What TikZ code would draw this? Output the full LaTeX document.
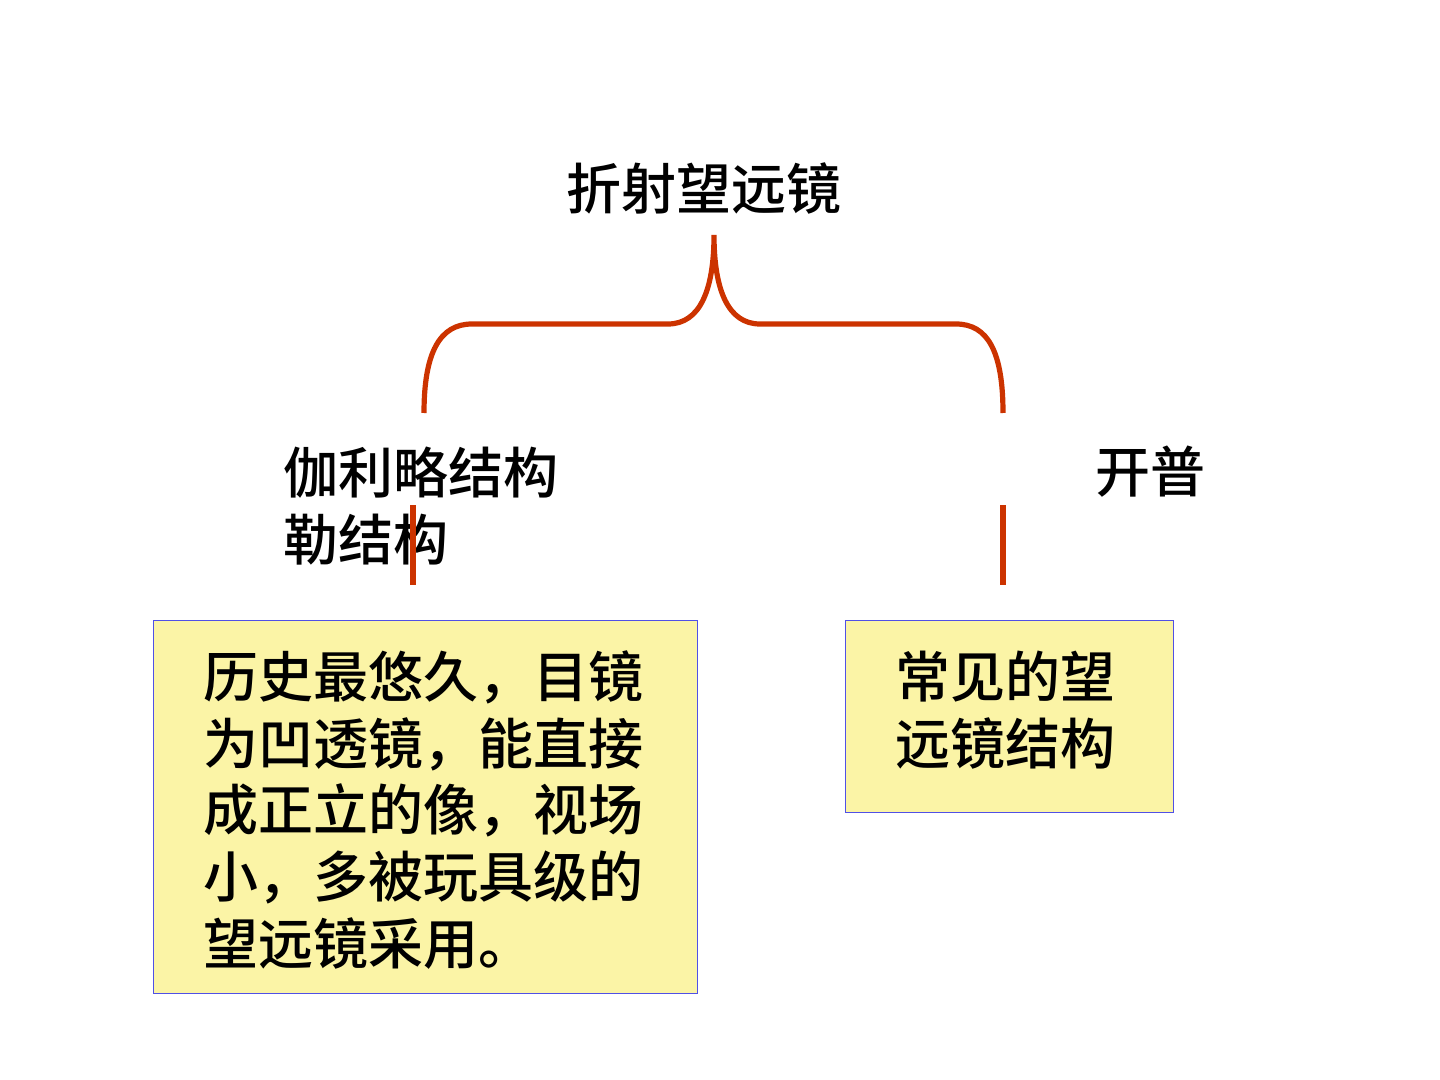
\documentclass[tikz,border=0pt]{standalone}
\usepackage{fontspec}
\newfontfamily\cjk{Noto Sans CJK SC Medium}
\definecolor{bracered}{HTML}{CC3300}
\definecolor{boxfill}{HTML}{FBF4A6}
\definecolor{boxline}{HTML}{5050E6}
\tikzset{
  lbl/.style={font=\cjk\fontsize{27.5}{33.3}\selectfont, inner sep=0pt, anchor=west, align=left},
  notebox/.style={draw=boxline, line width=0.6pt, fill=boxfill},
  redline/.style={draw=bracered, line width=2.6pt}
}
\begin{document}
\begin{tikzpicture}[x=0.5pt,y=-0.5pt]
\useasboundingbox (0,0) rectangle (1440,1080);
% title
\node[lbl, anchor=center] (title) at (704,188) {折射望远镜};
% brace
\coordinate (bl) at (424,413);
\coordinate (br) at (1003,413);
\coordinate (tip) at (714,235);
\draw[redline] (bl) .. controls (424,352) and (440,324) .. (472,324)
  -- (668,324) .. controls (700,324) and (714,290) .. (tip)
  .. controls (714,290) and (728,324) .. (760,324)
  -- (956,324) .. controls (988,324) and (1003,352) .. (br);
% labels
\node[lbl] (gal) at (283,506) {伽利略结构\\勒结构};
\node[lbl] (kep) at (1095,472) {开普};
% short lines
\coordinate (la) at (413,505);
\coordinate (lb) at (413,585);
\coordinate (ra) at (1003,505);
\coordinate (rb) at (1003,585);
\draw[redline] (la) -- (lb);
\draw[redline] (ra) -- (rb);
% boxes
\node[notebox, minimum width=272pt, minimum height=186.5pt, anchor=north west, inner sep=0pt] (boxL) at (153,620) {};
\node[lbl] (txtL) at (203,810) {历史最悠久，目镜\\为凹透镜，能直接\\成正立的像，视场\\小，多被玩具级的\\望远镜采用。};
\node[notebox, minimum width=164pt, minimum height=96pt, anchor=north west, inner sep=0pt] (boxR) at (845,620) {};
\node[lbl] (txtR) at (895,710) {常见的望\\远镜结构};
\end{tikzpicture}
\end{document}
